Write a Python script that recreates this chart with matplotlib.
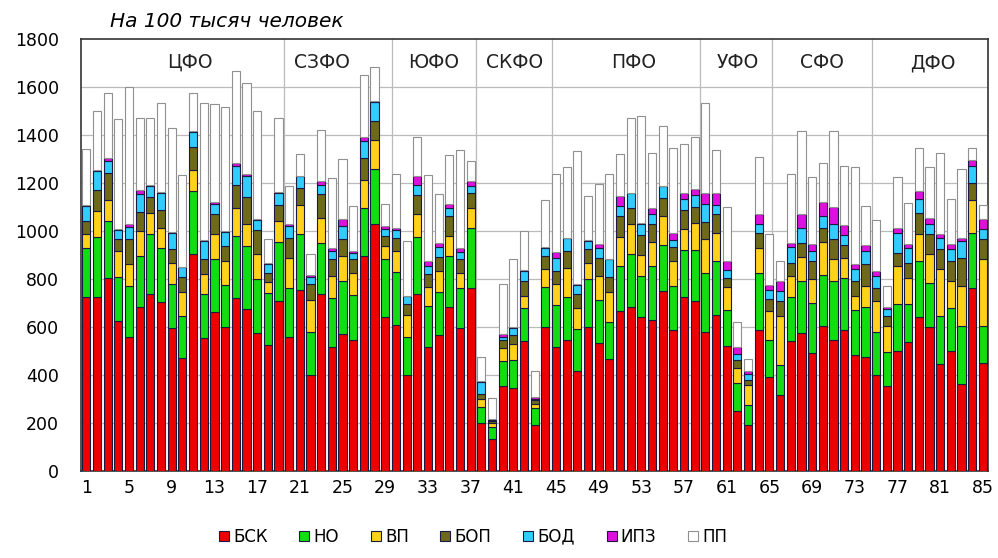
import numpy as np
import matplotlib
matplotlib.use('Agg')
import matplotlib.pyplot as plt

plt.rcParams['font.family'] = ['DejaVu Sans']

# subjects 1..85, values per 100 thousand people
bsk = [725, 725, 802, 626, 559, 681, 736, 702, 594, 470, 905, 554, 663, 601, 720, 674, 573, 525, 709, 559,
       753, 398, 736, 518, 568, 546, 895, 1029, 640, 609, 398, 736, 515, 564, 681, 594, 761, 198, 131, 352,
       345, 540, 191, 601, 518, 543, 418, 598, 533, 467, 664, 681, 642, 628, 747, 587, 725, 706, 577, 651,
       522, 250, 191, 587, 391, 318, 540, 573, 490, 605, 543, 587, 481, 474, 398, 352, 501, 536, 640, 598,
       446, 499, 363, 761, 449]
no = [205, 249, 238, 182, 212, 214, 249, 228, 184, 174, 262, 182, 218, 174, 256, 262, 225, 214, 245, 202,
      235, 179, 213, 202, 221, 187, 200, 229, 241, 221, 161, 238, 173, 179, 214, 167, 251, 69, 53, 105,
      118, 138, 73, 163, 174, 182, 173, 200, 178, 152, 190, 224, 170, 226, 194, 184, 193, 212, 249, 221,
      148, 116, 82, 239, 155, 125, 185, 216, 207, 211, 246, 218, 189, 207, 179, 142, 194, 159, 234, 184,
      200, 179, 242, 231, 156]
vp = [55, 107, 86, 108, 89, 104, 90, 82, 89, 102, 87, 83, 104, 99, 117, 93, 107, 46, 86, 127,
      121, 134, 105, 92, 106, 93, 114, 120, 55, 86, 92, 94, 76, 90, 83, 65, 83, 34, 16, 55,
      66, 51, 16, 76, 86, 118, 87, 69, 101, 124, 120, 124, 87, 100, 120, 103, 88, 115, 138, 120,
      94, 64, 83, 101, 118, 203, 87, 102, 101, 138, 92, 83, 59, 90, 129, 111, 159, 110, 111, 123,
      194, 113, 166, 134, 276]
bop = [55, 90, 114, 48, 104, 80, 66, 76, 56, 63, 93, 65, 83, 62, 97, 110, 96, 41, 69, 83,
       69, 67, 97, 69, 69, 58, 93, 79, 42, 55, 44, 80, 55, 58, 83, 58, 62, 21, 9, 31,
       35, 62, 14, 55, 55, 73, 58, 56, 73, 65, 87, 66, 83, 75, 76, 58, 79, 65, 73, 79,
       41, 30, 24, 65, 51, 63, 55, 59, 76, 58, 83, 51, 60, 89, 54, 41, 55, 62, 90, 83,
       83, 83, 117, 73, 83]
bod = [62, 76, 49, 39, 51, 72, 44, 69, 69, 38, 63, 73, 45, 60, 79, 87, 42, 34, 48, 48,
       48, 30, 41, 35, 55, 25, 72, 78, 28, 30, 32, 41, 35, 41, 34, 29, 28, 48, 5, 16,
       30, 42, 7, 35, 55, 52, 39, 34, 45, 73, 41, 60, 44, 39, 48, 28, 46, 50, 75, 38,
       31, 28, 25, 37, 38, 38, 65, 62, 42, 49, 65, 43, 51, 56, 52, 28, 83, 63, 55, 41,
       45, 49, 69, 69, 42]
ipz = [5, 6, 13, 5, 11, 17, 5, 5, 4, 3, 5, 4, 7, 4, 11, 10, 5, 7, 3, 10,
       3, 7, 14, 11, 28, 7, 18, 5, 13, 11, 3, 37, 18, 18, 18, 14, 21, 3, 2, 11,
       7, 3, 7, 3, 25, 3, 3, 3, 16, 3, 42, 3, 7, 27, 3, 32, 24, 27, 45, 48,
       38, 27, 13, 41, 22, 44, 18, 56, 27, 59, 69, 41, 23, 25, 21, 7, 18, 14, 34, 25,
       20, 20, 11, 28, 41]
pp = [235, 247, 273, 457, 574, 303, 281, 371, 431, 381, 157, 572, 406, 516, 386, 377, 450, 97, 311, 156,
      90, 87, 214, 293, 251, 186, 256, 142, 93, 224, 227, 166, 359, 201, 203, 410, 83, 101, 88, 210,
      280, 163, 110, 193, 323, 293, 555, 184, 249, 352, 175, 313, 446, 228, 247, 352, 205, 213, 373, 180,
      224, 104, 49, 235, 210, 83, 286, 348, 279, 162, 318, 245, 401, 161, 210, 90, 212, 173, 180, 210,
      335, 187, 290, 48, 62]

series_names = ['БСК', 'НО', 'ВП', 'БОП', 'БОД', 'ИПЗ', 'ПП']
colors = ['#EE0000', '#11DD11', '#FFD21A', '#6E6A1A', '#33CCFF', '#DD11DD', '#FFFFFF']

districts = ['ЦФО', 'СЗФО', 'ЮФО', 'СКФО', 'ПФО', 'УФО', 'СФО', 'ДФО']
district_bounds = [19.5, 29.6, 37.5, 44.6, 58.5, 65.2, 74.6]
label_pos = [10.7, 23.1, 33.5, 41.1, 52.3, 62.0, 69.9, 80.3]

x = np.arange(1, 86)
data = [bsk, no, vp, bop, bod, ipz, pp]

fig = plt.figure(figsize=(9.98, 5.58), dpi=100)
ax = fig.add_axes([0.0812, 0.156, 0.909, 0.775])

bottom = np.zeros(len(x))
for vals, name, col in zip(data, series_names, colors):
    vals = np.array(vals, dtype=float)
    ec = '#909090' if col == '#FFFFFF' else '#1a1a40'
    ax.bar(x, vals, bottom=bottom, width=0.76, color=col, edgecolor=ec,
           linewidth=0.8, label=name, zorder=3)
    bottom += vals

ax.set_xlim(0.5, 85.5)
ax.set_ylim(0, 1800)
ax.set_yticks(range(0, 1801, 200))
ax.set_xticks(range(1, 86, 4))
ax.tick_params(axis='both', length=0, labelsize=12.5)
ax.tick_params(axis='y', pad=16)
ax.tick_params(axis='x', pad=6)

for yv in range(200, 1800, 200):
    ax.axhline(yv, color='#BBBBBB', linewidth=0.9, zorder=1)
for b in district_bounds:
    ax.axvline(b, color='#BBBBBB', linewidth=0.9, zorder=1)

for pos, name in zip(label_pos, districts):
    ax.text(pos, 1700, name, ha='center', va='center', fontsize=13.5, color='#222222')

for s in ax.spines.values():
    s.set_color('#333333')
    s.set_linewidth(1.2)

fig.text(0.110, 0.962, 'На 100 тысяч человек', style='italic', fontsize=14.5,
         ha='left', va='center')

fig.legend(loc='center', bbox_to_anchor=(0.474, 0.038), ncol=7, frameon=False,
           fontsize=12, handlelength=0.6, handleheight=0.6, columnspacing=1.9,
           handletextpad=0.25)

fig.savefig('out.png', dpi=100)
